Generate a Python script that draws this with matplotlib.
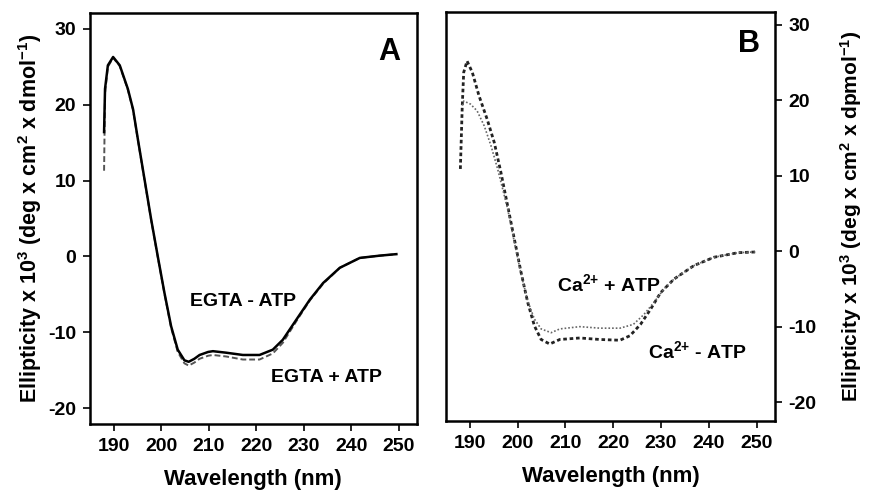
""" CD spectra, panels A and B
"""

import matplotlib
matplotlib.use('Agg')
import matplotlib.pyplot as plt

plt.rcParams['font.family'] = ['Liberation Sans', 'DejaVu Sans']
plt.rcParams['font.weight'] = 'bold'
plt.rcParams['axes.labelweight'] = 'bold'
plt.rcParams['axes.unicode_minus'] = False
plt.rcParams['mathtext.fontset'] = 'custom'
plt.rcParams['mathtext.rm'] = 'Liberation Sans:bold'
plt.rcParams['mathtext.default'] = 'rm'

# panel A: EGTA
wl_a = [188.0, 188.2, 188.8, 189.9, 191.3, 193.0, 194.1, 195.1, 196.5, 197.9,
        199.3, 200.7, 202.1, 203.5, 204.9, 205.8, 207.0, 208.1, 209.9, 210.9,
        213.7, 217.2, 220.7, 223.5, 225.6, 228.5, 231.3, 234.1, 237.6, 241.8,
        246.0, 249.5]
egta_minus = [16.4, 22.1, 25.2, 26.3, 25.2, 22.1, 19.4, 15.5, 10.2, 4.9,
              0.0, -4.8, -9.2, -12.3, -13.7, -13.9, -13.5, -13.0, -12.6, -12.5,
              -12.7, -13.0, -13.0, -12.3, -11.0, -8.3, -5.7, -3.5, -1.5, -0.2,
              0.1, 0.3]
egta_plus = [11.3, 21.5, 25.0, 26.2, 25.1, 22.0, 19.3, 15.4, 10.1, 4.8,
             -0.1, -4.9, -9.4, -12.6, -14.1, -14.4, -14.0, -13.5, -13.1, -13.0,
             -13.2, -13.6, -13.6, -12.8, -11.4, -8.5, -5.8, -3.6, -1.5, -0.2,
             0.1, 0.3]

# panel B: Ca2+ - ATP
wl_b = [188.0, 188.4, 188.7, 189.4, 190.5, 191.9, 193.6, 195.1, 196.5, 197.9,
        199.3, 200.7, 202.1, 203.5, 204.9, 206.7, 208.8, 213.0, 217.2, 221.4,
        223.5, 225.7, 227.8, 229.9, 232.7, 236.9, 241.1, 246.1, 249.9]
ca_minus = [10.9, 19.3, 23.7, 25.2, 23.7, 20.6, 17.5, 14.4, 10.4, 6.0,
            1.6, -2.8, -6.8, -9.9, -11.7, -12.3, -11.7, -11.5, -11.7, -11.8,
            -11.2, -9.7, -7.7, -5.5, -3.7, -1.9, -0.8, -0.2, -0.1]

# panel B: Ca2+ + ATP
wl_b2 = [188.4, 188.7, 190.1, 191.5, 193.0, 194.4, 195.8, 197.9, 199.3, 200.7,
         202.1, 203.5, 204.9, 207.0, 208.8, 213.0, 217.2, 221.4, 224.2, 226.4,
         228.5, 230.6, 232.7, 236.9, 241.1, 246.1, 249.9]
ca_plus = [19.3, 19.9, 19.5, 18.6, 16.6, 14.0, 10.9, 5.6, 1.2, -3.0,
           -6.6, -9.0, -10.3, -10.8, -10.3, -10.0, -10.2, -10.2, -9.7, -8.4,
           -6.8, -5.0, -3.7, -1.9, -0.8, -0.2, -0.1]

xticks = [190, 200, 210, 220, 230, 240, 250]
yticks = [-20, -10, 0, 10, 20, 30]

fig = plt.figure(figsize=(8.72, 4.91), dpi=100)
ax_a = fig.add_axes([0.103, 0.1365, 0.375, 0.837])
ax_b = fig.add_axes([0.5115, 0.1426, 0.377, 0.833])

ax_a.plot(wl_a, egta_plus, color='#555555', lw=1.4, ls=(0, (3, 1.5)))
ax_a.plot(wl_a, egta_minus, color='black', lw=1.8)
ax_b.plot(wl_b, ca_minus, color='#222222', lw=2.0, ls=(0, (1.3, 1.0)))
ax_b.plot(wl_b2, ca_plus, color='#666666', lw=1.2, ls=(0, (1, 1.2)))

for ax in (ax_a, ax_b):
    ax.set_xlim(185, 253.8)
    ax.set_xticks(xticks)
    ax.set_yticks(yticks)
    ax.tick_params(direction='out', length=5, width=1.2, labelsize=14, pad=5)
    for s in ax.spines.values():
        s.set_linewidth(1.8)
    ax.set_xlabel('Wavelength (nm)', fontsize=16, labelpad=10)

ax_a.set_ylim(-22.1, 32.1)
ax_b.set_ylim(-22.5, 31.7)
ax_a.set_ylabel(r'Ellipticity x 10$^3$ (deg x cm$^2$ x dmol$^{-1}$)',
                fontsize=15.5, labelpad=3)
ax_b.yaxis.tick_right()
ax_b.yaxis.set_label_position('right')
ax_b.set_ylabel(r'Ellipticity x 10$^3$ (deg x cm$^2$ x dpmol$^{-1}$)',
                fontsize=15, labelpad=15, rotation=90)

ax_a.text(247.9, 27.0, 'A', fontsize=22, fontweight='heavy', ha='center', va='center')
ax_a.text(217.2, -6.0, 'EGTA - ATP', fontsize=14, ha='center', va='center')
ax_a.text(234.8, -16.0, 'EGTA + ATP', fontsize=14, ha='center', va='center')

ax_b.text(248.5, 27.5, 'B', fontsize=22, fontweight='heavy', ha='center', va='center')
ax_b.text(219.0, -4.4, r'Ca$^{2{+}}$ + ATP', fontsize=14, ha='center', va='center')
ax_b.text(237.6, -13.2, r'Ca$^{2{+}}$ - ATP', fontsize=14, ha='center', va='center')

fig.savefig('out.png', dpi=100)
